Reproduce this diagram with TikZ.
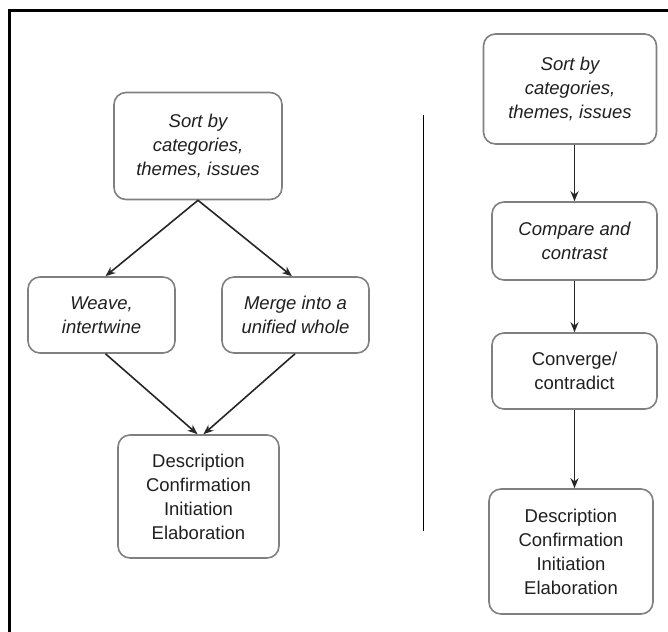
\documentclass[tikz,border=0pt]{standalone}
\usepackage{fontspec}
\setmainfont{Liberation Sans}
\usetikzlibrary{arrows.meta}
\begin{document}
\begin{tikzpicture}[x=1pt,y=-1pt,
  box/.style={draw=black!50,line width=1.6pt,rounded corners=12pt,align=center,
    inner sep=0pt,text=black!88,font=\fontsize{18.5}{24}\selectfont},
  ibox/.style={box,font=\fontsize{18.5}{24}\selectfont\itshape},
  arr/.style={line width=1.6pt,draw=black!85,-{Stealth[length=10pt,width=8pt]}},
  sep/.style={line width=1pt},
  frame/.style={line width=3pt}]
\useasboundingbox (0,0) rectangle (668,631);
\clip (0,0) rectangle (668,631);
% frame
\coordinate (f1) at (9.7,700);
\coordinate (f2) at (9.7,10.3);
\coordinate (f3) at (720,10.3);
\draw[frame] (f1) -- (f2) -- (f3);
% left diagram
\node[ibox,minimum width=168pt,minimum height=107pt] (ltop) at (198,146) {Sort by\\categories,\\themes, issues};
\node[ibox,minimum width=147pt,minimum height=76pt] (lweave) at (101.5,315) {Weave,\\intertwine};
\node[ibox,minimum width=147pt,minimum height=76pt] (lmerge) at (295.5,315) {Merge into a\\unified whole};
\node[box,minimum width=161pt,minimum height=123pt] (lbot) at (198.5,496.5) {Description\\Confirmation\\Initiation\\Elaboration};
\draw[arr] (ltop.south) -- ([xshift=4pt]lweave.north);
\draw[arr] (ltop.south) -- ([xshift=-3.5pt]lmerge.north);
\draw[arr] ([xshift=4pt]lweave.south) -- ([xshift=-1pt]lbot.north);
\draw[arr] ([xshift=-0.5pt]lmerge.south) -- ([xshift=5pt]lbot.north);
% separator
\coordinate (s1) at (423,115);
\coordinate (s2) at (423,531);
\draw[sep] (s1) -- (s2);
% right diagram
\node[ibox,minimum width=173pt,minimum height=110pt] (rtop) at (570,89) {Sort by\\categories,\\themes, issues};
\node[ibox,minimum width=165pt,minimum height=78pt] (rcomp) at (574.5,241) {Compare and\\contrast};
\node[box,minimum width=165pt,minimum height=76pt] (rconv) at (574.5,371) {Converge/\\contradict};
\node[box,minimum width=164pt,minimum height=125pt] (rbot) at (571,551.5) {Description\\Confirmation\\Initiation\\Elaboration};
\draw[arr] (rtop.south -| rcomp.north) -- (rcomp.north);
\draw[arr] (rcomp.south) -- (rconv.north);
\draw[arr] (rconv.south) -- (rbot.north -| rconv.south);
\end{tikzpicture}
\end{document}
